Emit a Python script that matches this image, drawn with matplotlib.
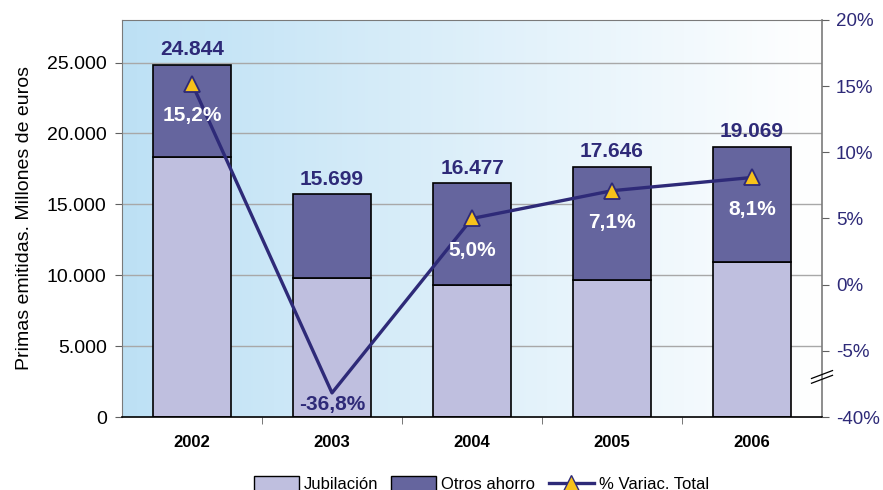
import matplotlib
matplotlib.use('Agg')
import matplotlib.pyplot as plt
import numpy as np
from matplotlib.patches import Patch
from matplotlib.lines import Line2D

plt.rcParams['font.family'] = ['Liberation Sans', 'DejaVu Sans']

years = ['2002', '2003', '2004', '2005', '2006']
jubilacion = [18350, 9800, 9320, 9680, 10950]
totales = [24844, 15699, 16477, 17646, 19069]
otros = [t - j for t, j in zip(totales, jubilacion)]
variacion = [15.2, -36.8, 5.0, 7.1, 8.1]
left_ticks = [0, 5000, 10000, 15000, 20000, 25000]
right_ticks = [-40, -5, 0, 5, 10, 15, 20]

C_JUB = '#BFBFDF'
C_OTR = '#65659E'
C_NAVY = '#2E2A78'
C_YEL = '#F7C21A'


def brk(v):
    # broken right axis: values below -5% are compressed
    return v if v >= -5 else -5 + (v + 5) * 0.1


def fmt_thousands(v):
    return f"{v:,}".replace(',', '.')


fig = plt.figure(figsize=(8.83, 4.90), dpi=100)
ax = fig.add_axes([122 / 883, 73 / 490, 700 / 883, 397 / 490])
ax.set_zorder(1)
ax.patch.set_visible(False)

# gradient background
grad = np.linspace(0, 1, 256)
c0 = np.array([0.74, 0.88, 0.96])
c1 = np.array([1.0, 1.0, 1.0])
img = c0[None, None, :] * (1 - grad[None, :, None]) + c1[None, None, :] * grad[None, :, None]
ax.imshow(img, extent=[0, 1, 0, 1], transform=ax.transAxes, aspect='auto', zorder=-5)

x = np.arange(len(years))
w = 0.56
ax.bar(x, jubilacion, width=w, color=C_JUB, edgecolor='black', linewidth=1.2, zorder=2)
ax.bar(x, otros, width=w, bottom=jubilacion, color=C_OTR, edgecolor='black', linewidth=1.2, zorder=2)

for xi, t in zip(x, totales):
    ax.annotate(fmt_thousands(t), (xi, t), xytext=(0, 4), textcoords='offset points',
                ha='center', va='bottom', fontsize=15, fontweight='bold', color=C_NAVY, zorder=5)

ax.set_xlim(-0.5, len(years) - 0.5)
ax.set_ylim(0, 28000)
ax.set_yticks(left_ticks)
ax.set_yticklabels([fmt_thousands(v) for v in left_ticks], fontsize=14, color='black')
for yv in left_ticks[1:]:
    ax.axhline(yv, color='#A8A8A8', lw=1.0, zorder=1)
ax.set_xticks(x)
ax.set_xticklabels(years, fontsize=12, fontweight='bold')
ax.set_xticks(np.arange(0.5, len(years) - 1, 1), minor=True)
ax.tick_params(axis='x', which='major', length=0, pad=13)
ax.tick_params(axis='x', which='minor', length=5, direction='out', color='#606060')
ax.tick_params(axis='y', length=5, direction='out', color='#606060', pad=6)
ax.set_ylabel('Primas emitidas. Millones de euros', fontsize=14, labelpad=10)
for s in ['left', 'right', 'top']:
    ax.spines[s].set_color('#7A7A7A')
ax.spines['bottom'].set_color('black')
ax.spines['bottom'].set_linewidth(1.2)
ax.spines['right'].set_linewidth(1.2)

ax2 = ax.twinx()
ax2.set_zorder(2)
ax2.set_ylim(-10, 20)
ypos = [-10] + right_ticks[1:]
ax2.set_yticks(ypos)
ax2.set_yticklabels([f"{v}%" for v in right_ticks], fontsize=13.5, color=C_NAVY)
ax2.tick_params(axis='y', length=5, direction='out', color='#606060', pad=5)
for s in ['left', 'right', 'top', 'bottom']:
    ax2.spines[s].set_visible(False)

yd = [brk(v) for v in variacion]
ax2.plot(x, yd, color=C_NAVY, lw=2.4, marker='^', markersize=11,
         markevery=[i for i, v in enumerate(variacion) if v >= 0],
         markerfacecolor=C_YEL, markeredgecolor=C_NAVY, markeredgewidth=1.3, zorder=4)
for xi, v, yv in zip(x, variacion, yd):
    lab = f"{v:.1f}%".replace('.', ',')
    if v >= 0:
        ax2.annotate(lab, (xi, yv), xytext=(0, -23), textcoords='offset points',
                     ha='center', va='center', fontsize=15, fontweight='bold', color='white', zorder=6)
    else:
        ax2.annotate(lab, (xi, yv), xytext=(0, -8), textcoords='offset points',
                     ha='center', va='center', fontsize=15, fontweight='bold', color=C_NAVY, zorder=6)

# break marks on the right axis
for dy in (0.0, 0.012):
    ax2.plot([0.985, 1.015], [0.085 + dy, 0.105 + dy], transform=ax2.transAxes,
             color='black', lw=0.9, clip_on=False, zorder=10)

handles = [Patch(facecolor=C_JUB, edgecolor='black', label='Jubilación'),
           Patch(facecolor=C_OTR, edgecolor='black', label='Otros ahorro'),
           Line2D([0], [0], color=C_NAVY, lw=2.4, marker='^', markersize=11,
                  markerfacecolor=C_YEL, markeredgecolor=C_NAVY, label='% Variac. Total')]
fig.legend(handles=handles, loc='center', bbox_to_anchor=(0.545, 0.012), ncol=3, frameon=False,
           fontsize=12, handlelength=2.7, handleheight=1.0, columnspacing=0.8, handletextpad=0.3)

fig.savefig('out.png', dpi=100)
